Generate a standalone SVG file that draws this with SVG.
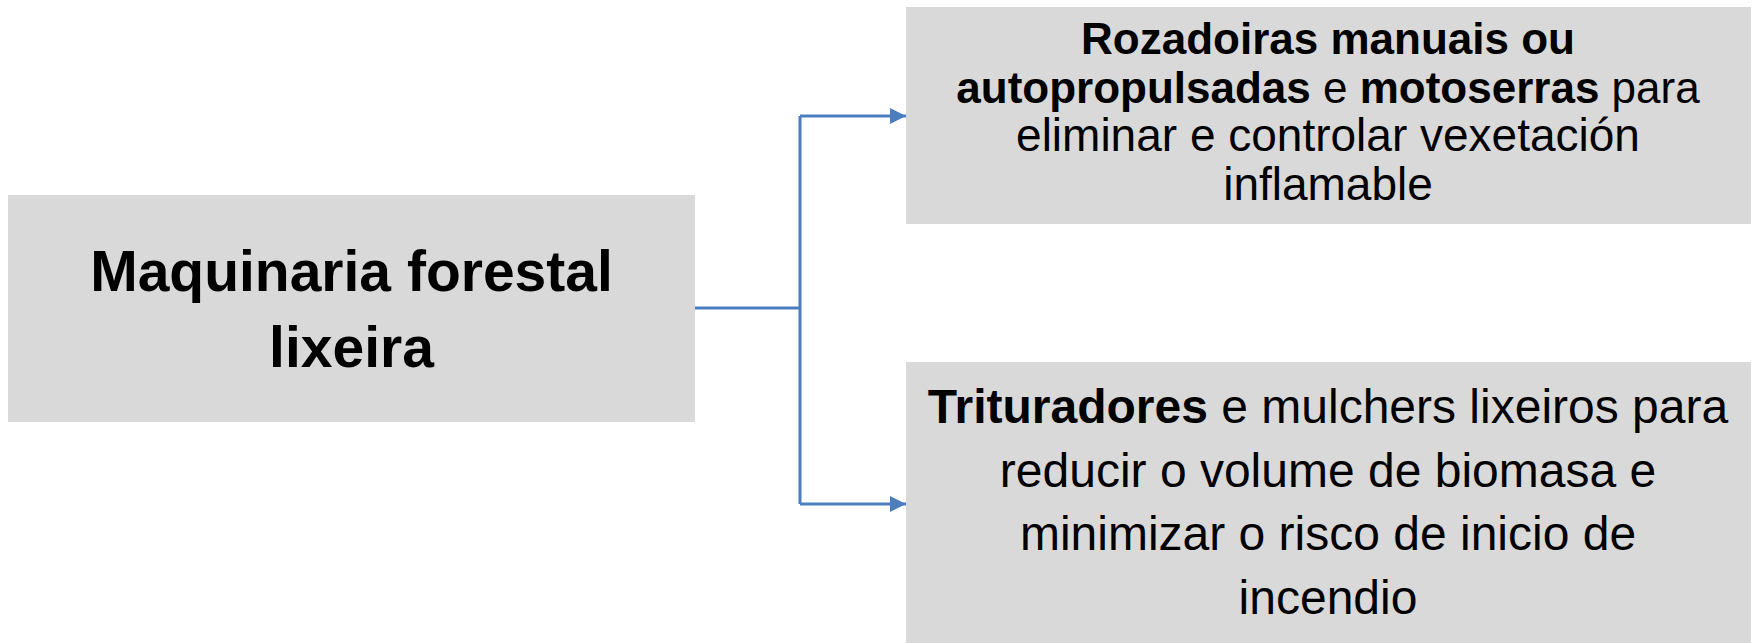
<svg xmlns="http://www.w3.org/2000/svg" width="1757" height="643" viewBox="0 0 1757 643">
<style>
.box{fill:#d9d9d9}
.t{font-family:"Liberation Sans",Arial,sans-serif;fill:#000;text-anchor:middle}
.b{font-weight:bold}
.conn{fill:none;stroke:#4a7ebf;stroke-width:3}
</style>
<defs>
<marker id="arr" viewBox="0 0 16 16" refX="16" refY="8" markerWidth="16" markerHeight="16" markerUnits="userSpaceOnUse" orient="auto">
<path d="M0,0 L16,8 L0,16 Z" fill="#4a7ebf"/>
</marker>
</defs>
<rect width="1757" height="643" fill="#fff"/>
<g id="connectors">
<path class="conn" d="M695,308 H800"/>
<path class="conn" d="M800,116 V504"/>
<path class="conn" d="M800,116 H906" marker-end="url(#arr)"/>
<path class="conn" d="M800,504 H906" marker-end="url(#arr)"/>
</g>
<g id="node-main">
<rect class="box" x="8" y="195" width="687" height="227"/>
<text class="t b" font-size="57"><tspan x="351.5" y="291">Maquinaria forestal</tspan><tspan x="351.5" y="367">lixeira</tspan></text>
</g>
<g id="node-rozadoiras">
<rect class="box" x="906" y="7" width="845" height="217"/>
<text class="t" font-size="44"><tspan x="1328" y="54" class="b">Rozadoiras manuais ou</tspan><tspan x="1328" y="102.5"><tspan class="b">autopropulsadas</tspan> e <tspan class="b">motoserras</tspan> para</tspan><tspan x="1328" y="151" font-size="46">eliminar e controlar vexetación</tspan><tspan x="1328" y="199.5" font-size="46">inflamable</tspan></text>
</g>
<g id="node-trituradores">
<rect class="box" x="906" y="362" width="845" height="281"/>
<text class="t" font-size="48"><tspan x="1328" y="423"><tspan class="b">Trituradores</tspan> e mulchers lixeiros para</tspan><tspan x="1328" y="486.5">reducir o volume de biomasa e</tspan><tspan x="1328" y="550">minimizar o risco de inicio de</tspan><tspan x="1328" y="613.5">incendio</tspan></text>
</g>
</svg>
